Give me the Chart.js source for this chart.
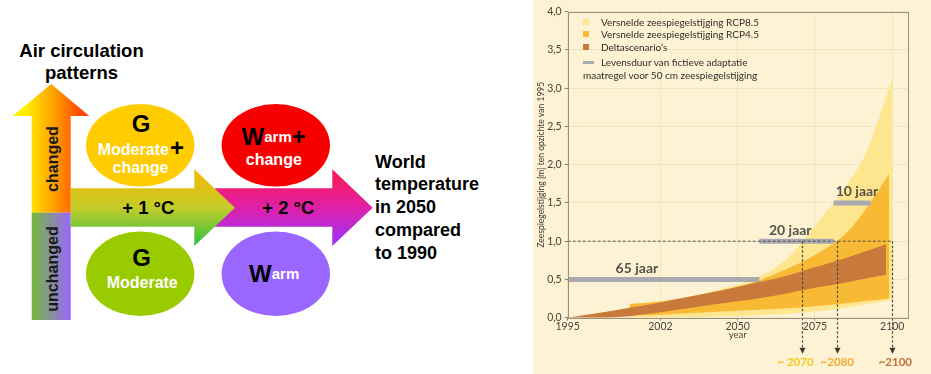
<!DOCTYPE html>
<html>
<head>
    <script src="https://cdn.jsdelivr.net/npm/chart.js@4.4.1/dist/chart.umd.min.js"></script>
    <style>
        body {
            margin: 0;
            width: 931px;
            height: 374px;
            overflow: hidden;
            position: relative;
            background: #ffffff;
            font-family: Lato, "Open Sans", sans-serif;
        }
        #diagram {
            position: absolute;
            left: 0;
            top: 0;
        }
        #panel {
            position: absolute;
            left: 533px;
            top: 0;
            width: 398px;
            height: 374px;
            background: #fdf3d4;
        }
        #chart-box {
            position: absolute;
            left: 0;
            top: 0;
            width: 398px;
            height: 374px;
        }
        .legend-row {
            position: absolute;
            left: 50px;
            font-size: 10px;
            line-height: 12.5px;
            color: #2f2d29;
            white-space: pre;
        }
        .legend-row .swatch {
            position: absolute;
            left: 0;
            top: 3px;
            width: 6px;
            height: 6px;
        }
        .legend-row .swatch.line {
            width: 11px;
            height: 3px;
            top: 5px;
        }
        .legend-row .text {
            margin-left: 18px;
        }
    </style>
</head>
<body>
    <svg id="diagram" width="533" height="374" viewBox="0 0 533 374"
         font-family="'Liberation Sans', Arial, sans-serif" font-weight="bold">
        <defs>
            <linearGradient id="upGrad" gradientUnits="userSpaceOnUse" x1="25" y1="0" x2="82" y2="0">
                <stop offset="0" stop-color="#fff000"/>
                <stop offset="0.5" stop-color="#ffa200"/>
                <stop offset="1" stop-color="#ff4400"/>
            </linearGradient>
            <linearGradient id="downGrad" gradientUnits="userSpaceOnUse" x1="32" y1="0" x2="71" y2="0">
                <stop offset="0" stop-color="#76b83a"/>
                <stop offset="1" stop-color="#9966ff"/>
            </linearGradient>
            <linearGradient id="plus1Grad" gradientUnits="userSpaceOnUse" x1="0" y1="169" x2="0" y2="246">
                <stop offset="0" stop-color="#f7b800"/>
                <stop offset="0.5" stop-color="#c4cc2a"/>
                <stop offset="1" stop-color="#2ec040"/>
            </linearGradient>
            <linearGradient id="plus2Grad" gradientUnits="userSpaceOnUse" x1="0" y1="169" x2="0" y2="246">
                <stop offset="0" stop-color="#ff1a4d"/>
                <stop offset="0.5" stop-color="#e020a8"/>
                <stop offset="1" stop-color="#9933ff"/>
            </linearGradient>
        </defs>

        <text x="81.5" y="50" font-size="18.5" text-anchor="middle" dominant-baseline="central" fill="#000">Air circulation</text>
        <text x="81.5" y="72.7" font-size="18.5" text-anchor="middle" dominant-baseline="central" fill="#000">patterns</text>

        <!-- vertical arrow -->
        <polygon points="31.7,212.7 31.7,116 12.7,116 51.2,84 89.3,116 70.7,116 70.7,212.7" fill="url(#upGrad)"/>
        <rect x="31.7" y="212.7" width="39" height="107.3" fill="url(#downGrad)"/>
        <text transform="translate(52,159) rotate(-90)" font-size="16" text-anchor="middle" dominant-baseline="central" fill="#1a1a1a">changed</text>
        <text transform="translate(52,269) rotate(-90)" font-size="16" text-anchor="middle" dominant-baseline="central" fill="#1a1a1a">unchanged</text>

        <!-- horizontal arrows -->
        <polygon points="215,188.3 332.3,188.3 332.3,169.3 372.7,207.7 332.3,246 332.3,226.7 215,226.7" fill="url(#plus2Grad)"/>
        <polygon points="70.7,188.3 194.3,188.3 194.3,169.3 235,207.7 194.3,246 194.3,226.7 70.7,226.7" fill="url(#plus1Grad)"/>
        <text x="148.3" y="207" font-size="18.5" text-anchor="middle" dominant-baseline="central" fill="#000">+ 1 °C</text>
        <text x="288.3" y="207" font-size="18.5" text-anchor="middle" dominant-baseline="central" fill="#000">+ 2 °C</text>

        <!-- ellipses -->
        <ellipse cx="140.2" cy="145.3" rx="54.2" ry="41.3" fill="#ffcc00"/>
        <text x="141" y="123.5" font-size="24" text-anchor="middle" dominant-baseline="central" fill="#000">G</text>
        <text x="133.3" y="149.5" font-size="16" text-anchor="middle" dominant-baseline="central" fill="#fff">Moderate</text>
        <text x="177" y="147" font-size="24" text-anchor="middle" dominant-baseline="central" fill="#000">+</text>
        <text x="140.5" y="167.5" font-size="16" text-anchor="middle" dominant-baseline="central" fill="#fff">change</text>

        <ellipse cx="140.2" cy="273.8" rx="54.2" ry="42.2" fill="#99cc00"/>
        <text x="141.7" y="257.7" font-size="24" text-anchor="middle" dominant-baseline="central" fill="#000">G</text>
        <text x="142.2" y="282.5" font-size="16" text-anchor="middle" dominant-baseline="central" fill="#fff">Moderate</text>

        <ellipse cx="275.8" cy="145.3" rx="54.2" ry="41.3" fill="#f70000"/>
        <text x="273.7" y="136" text-anchor="middle" dominant-baseline="central"><tspan font-size="24" fill="#000">W</tspan><tspan font-size="15" fill="#fff">arm</tspan><tspan font-size="24" fill="#000">+</tspan></text>
        <text x="273.8" y="159" font-size="16" text-anchor="middle" dominant-baseline="central" fill="#fff">change</text>

        <ellipse cx="275.8" cy="273.8" rx="54.2" ry="42.2" fill="#9966ff"/>
        <text x="274.2" y="272.7" text-anchor="middle" dominant-baseline="central"><tspan font-size="24" fill="#000">W</tspan><tspan font-size="15" fill="#fff">arm</tspan></text>

        <g font-size="18" fill="#000">
            <text x="375" y="161.7" dominant-baseline="central">World</text>
            <text x="375" y="184.2" dominant-baseline="central">temperature</text>
            <text x="375" y="206.7" dominant-baseline="central">in 2050</text>
            <text x="375" y="229.5" dominant-baseline="central">compared</text>
            <text x="375" y="252.5" dominant-baseline="central">to 1990</text>
        </g>
    </svg>

    <div id="panel">
        <div id="chart-box"><canvas id="zeespiegel"></canvas></div>
        <div id="legend"></div>
    </div>

    <script>
        // sea level rise (m) relative to 1995
        const deltaYears = [1995, 2005, 2015, 2025, 2035, 2045, 2055, 2065, 2075, 2085, 2098];
        const deltaHigh  = [0, 0.06, 0.13, 0.20, 0.28, 0.36, 0.45, 0.54, 0.66, 0.78, 0.96];
        const deltaLow   = [0, 0, 0.02, 0.07, 0.13, 0.19, 0.24, 0.31, 0.39, 0.46, 0.56];

        const rcp45Years = [2015, 2025, 2035, 2045, 2055, 2065, 2075, 2085, 2092, 2099];
        const rcp45High  = [0.18, 0.21, 0.26, 0.35, 0.46, 0.62, 0.82, 1.10, 1.45, 1.88];
        const rcp45Low   = [0.03, 0.04, 0.06, 0.08, 0.10, 0.12, 0.15, 0.19, 0.22, 0.25];

        const rcp85Years = [2015, 2025, 2035, 2045, 2055, 2065, 2075, 2085, 2092, 2100];
        const rcp85High  = [0.18, 0.22, 0.28, 0.38, 0.50, 0.74, 1.20, 1.72, 2.20, 3.12];
        const rcp85Low   = [0, 0, 0.01, 0.02, 0.03, 0.05, 0.08, 0.13, 0.18, 0.23];

        // lifetime of a fictive adaptation measure
        const barLabels = ['65 jaar', '20 jaar', '10 jaar'];
        const barStart  = [1995, 2057, 2081];
        const barEnd    = [2057, 2081, 2093];
        const barLevel  = [0.5, 1.0, 1.5];
        const barLabelAt = [2017.4, 2067, 2088.6];

        // years where each scenario reaches 1 m
        const crossYears   = [2070.8, 2082, 2100];
        const crossLabels  = ['~ 2070', '~2080', '~2100'];
        const crossLabelAt = [2068.7, 2082.2, 2101];

        const xTickValues = [1995, 2025, 2050, 2075, 2100];
        const xTickLabels = ['1995', '2002', '2050', '2075', '2100'];

        const legendLabels = [
            'Versnelde zeespiegelstijging RCP8.5',
            'Versnelde zeespiegelstijging RCP4.5',
            'Deltascenario’s',
            'Levensduur van fictieve adaptatie\nmaatregel voor 50 cm zeespiegelstijging'
        ];

        const COL_85 = '#fde68e';
        const COL_45 = '#f8b935';
        const COL_DELTA = '#c97a3b';
        const COL_BAR = '#a9a9b1';
        const crossColors = ['#f5c81a', '#f1a935', '#c1703b'];

        function pts(xs, ys) {
            return xs.map((x, i) => ({ x: x, y: ys[i] }));
        }

        function band(label, xs, ys, color, fillTarget, order) {
            return {
                label: label,
                data: pts(xs, ys),
                borderWidth: 0,
                borderColor: 'transparent',
                backgroundColor: color,
                pointRadius: 0,
                fill: fillTarget === null ? false : { target: fillTarget },
                cubicInterpolationMode: 'monotone',
                order: order
            };
        }

        var datasets = [
            {
                label: '1 m',
                data: [{ x: 1995, y: 1 }, { x: 2100, y: 1 }],
                borderColor: '#55514a',
                borderWidth: 1,
                borderDash: [3, 2],
                pointRadius: 0,
                fill: false,
                order: 0
            }
        ];
        for (var i = 0; i < barLabels.length; i++) {
            datasets.push({
                label: barLabels[i],
                data: [{ x: barStart[i], y: barLevel[i] }, { x: barEnd[i], y: barLevel[i] }],
                borderColor: COL_BAR,
                borderWidth: 5,
                borderCapStyle: 'butt',
                pointRadius: 0,
                fill: false,
                order: 1
            });
        }
        // index 4..9
        datasets.push(band('Deltascenario high', deltaYears, deltaHigh, COL_DELTA, 5, 2));
        datasets.push(band('Deltascenario low', deltaYears, deltaLow, COL_DELTA, null, 2));
        datasets.push(band('RCP4.5 high', rcp45Years, rcp45High, COL_45, 7, 3));
        datasets.push(band('RCP4.5 low', rcp45Years, rcp45Low, COL_45, null, 3));
        datasets.push(band('RCP8.5 high', rcp85Years, rcp85High, COL_85, 9, 4));
        datasets.push(band('RCP8.5 low', rcp85Years, rcp85Low, COL_85, null, 4));

        // dashed arrows, frame and the little text labels
        const extras = {
            id: 'extras',
            afterDatasetsDraw(chart) {
                const ctx = chart.ctx;
                const a = chart.chartArea;
                const x = chart.scales.x;
                const y = chart.scales.y;
                const y1 = y.getPixelForValue(1);
                const tipY = a.bottom + 36;
                ctx.save();

                ctx.strokeStyle = '#4d4a44';
                ctx.lineWidth = 1.2;
                ctx.setLineDash([2.5, 2]);
                crossYears.forEach(function (yr) {
                    const px = Math.round(x.getPixelForValue(yr)) + 0.5;
                    ctx.beginPath();
                    ctx.moveTo(px, y1);
                    ctx.lineTo(px, tipY - 5);
                    ctx.stroke();
                });
                ctx.setLineDash([]);
                ctx.fillStyle = '#3a3732';
                crossYears.forEach(function (yr) {
                    const px = Math.round(x.getPixelForValue(yr)) + 0.5;
                    ctx.beginPath();
                    ctx.moveTo(px - 3, tipY - 6);
                    ctx.lineTo(px + 3, tipY - 6);
                    ctx.lineTo(px, tipY);
                    ctx.closePath();
                    ctx.fill();
                });

                ctx.strokeStyle = '#9a917a';
                ctx.lineWidth = 1;
                ctx.strokeRect(Math.round(a.left) + 0.5, Math.round(a.top) + 0.5,
                               Math.round(a.width), Math.round(a.height));

                ctx.textAlign = 'center';
                ctx.textBaseline = 'middle';
                ctx.font = 'bold 14px Lato';
                ctx.fillStyle = '#57534b';
                barLabels.forEach(function (t, i) {
                    ctx.fillText(t, x.getPixelForValue(barLabelAt[i]), y.getPixelForValue(barLevel[i]) - 11);
                });

                ctx.font = 'bold 11.5px Lato';
                crossLabels.forEach(function (t, i) {
                    ctx.fillStyle = crossColors[i];
                    ctx.fillText(t, x.getPixelForValue(crossLabelAt[i]), a.bottom + 45);
                });
                ctx.restore();
            }
        };

        var ctx = document.getElementById('zeespiegel').getContext('2d');
        var chart = new Chart(ctx, {
            type: 'line',
            data: { datasets: datasets },
            plugins: [extras],
            options: {
                responsive: true,
                maintainAspectRatio: false,
                animation: false,
                layout: {
                    padding: { left: 0, right: 23.3, top: 11.7, bottom: 0 }
                },
                plugins: {
                    legend: { display: false },
                    tooltip: { enabled: false }
                },
                scales: {
                    x: {
                        type: 'linear',
                        min: 1995,
                        max: 2105,
                        afterBuildTicks: function (scale) {
                            scale.ticks = xTickValues.map(v => ({ value: v }));
                        },
                        afterFit: function (scale) {
                            scale.height = 56.3;
                        },
                        ticks: {
                            autoSkip: false,
                            maxRotation: 0,
                            padding: 0,
                            color: '#47443d',
                            font: { family: 'Lato', size: 10.5 },
                            callback: function (v) {
                                return xTickLabels[xTickValues.indexOf(v)];
                            }
                        },
                        grid: {
                            color: '#efe5c2',
                            tickColor: '#8d846d',
                            tickLength: 3
                        },
                        border: { display: false },
                        title: {
                            display: true,
                            text: 'year',
                            color: '#4a4740',
                            font: { family: 'Lato', size: 9.5 },
                            padding: { top: 0, bottom: 33 }
                        }
                    },
                    y: {
                        min: 0,
                        max: 4,
                        afterFit: function (scale) {
                            scale.width = 34.7;
                        },
                        ticks: {
                            stepSize: 0.5,
                            padding: 3,
                            color: '#47443d',
                            font: { family: 'Lato', size: 10.5 },
                            callback: function (v) {
                                return v.toFixed(1).replace('.', ',');
                            }
                        },
                        grid: {
                            color: '#efe5c2',
                            tickColor: '#8d846d',
                            tickLength: 3
                        },
                        border: { display: false },
                        title: {
                            display: true,
                            text: 'Zeespiegelstijging [m] ten opzichte van 1995',
                            color: '#3b3934',
                            font: { family: 'Lato', size: 8.5 },
                            padding: { top: 3.5, bottom: 0 }
                        }
                    }
                }
            }
        });

        // legend drawn as html inside the plot
        const legendSwatches = [COL_85, COL_45, COL_DELTA, COL_BAR];
        const legendRowTop = [15.5, 28, 40.5, 56.3];
        const legend = document.getElementById('legend');
        legendLabels.forEach(function (t, i) {
            const row = document.createElement('div');
            row.className = 'legend-row';
            row.style.top = legendRowTop[i] + 'px';
            const sw = document.createElement('span');
            sw.className = 'swatch' + (i === 3 ? ' line' : '');
            sw.style.background = legendSwatches[i];
            const tx = document.createElement('span');
            tx.className = 'text';
            tx.textContent = t;
            row.appendChild(sw);
            row.appendChild(tx);
            legend.appendChild(row);
        });
    </script>
</body>
</html>
